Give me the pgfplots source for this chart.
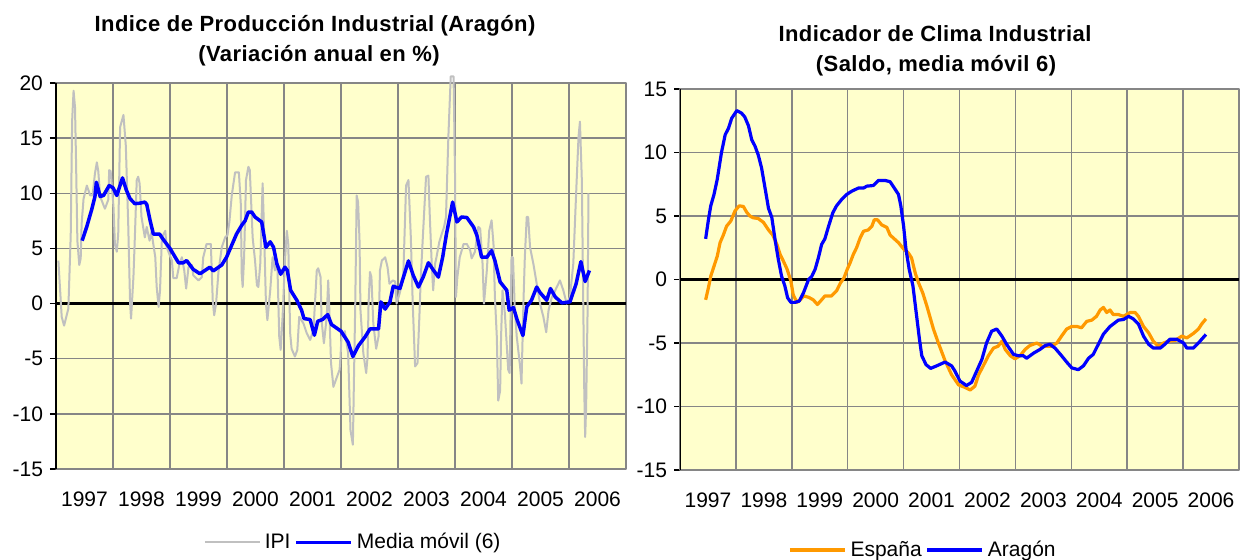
\documentclass[border=0pt]{standalone}
\usepackage{pgfplots}
\pgfplotsset{compat=1.18}
\usepackage{fontspec}
\setmainfont{Liberation Sans}
\newfontfamily\titlefont[LetterSpace=2.0]{Liberation Sans}
\definecolor{bgyel}{RGB}{255,255,204}
\definecolor{gridg}{RGB}{134,134,134}
\definecolor{ipigray}{RGB}{192,192,192}
\definecolor{mablue}{RGB}{0,0,255}
\definecolor{orng}{RGB}{255,153,0}
\begin{document}
\begin{tikzpicture}[x=0.5pt,y=0.5pt]
\path[use as bounding box] (0,0) rectangle (1240,560);
\pgfplotsset{
 common/.style={
   scale only axis,
   xmin=-0.5, xmax=119.5,
   axis background/.style={fill=bgyel},
   axis line style={draw=gridg, line width=0.75pt},
   xtick={5.5,17.5,...,113.5},
   xticklabels={1997,1998,1999,2000,2001,2002,2003,2004,2005,2006},
   xmajorgrids=false,
   x tick label style={font=\fontsize{10.5}{12}\selectfont, yshift=-5pt},
   major x tick style={draw=none},
   extra x ticks={11.5,23.5,35.5,47.5,59.5,71.5,83.5,95.5,107.5},
   extra x tick labels={},
   extra x tick style={grid=major, grid style={gridg, line width=0.75pt}, major tick length=0pt},
   ymajorgrids=true,
   grid style={gridg, line width=0.75pt},
   ytick pos=left,
   tick align=outside,
   major tick length=3pt,
   y tick style={black, line width=0.75pt},
   y tick label style={font=\fontsize{10.5}{12}\selectfont},
   extra y ticks={0},
   extra y tick labels={},
   extra y tick style={grid=major, grid style={black, line width=1.9pt}, major tick length=0pt},
   legend style={draw=none, fill=none, legend columns=2, font=\fontsize{10.5}{12}\selectfont, anchor=center},
   legend image code/.code={\draw[##1] (0pt,0pt) -- (27.5pt,0pt);},
   line join=round,
 }
}
% ---------------- Left chart ----------------
\begin{axis}[common,
  at={(28pt,45.5pt)}, anchor=south west,
  width=285pt, height=193pt,
  ymin=-15, ymax=20,
  ytick={-15,-10,-5,0,5,10,15,20},
  yticklabels={-15,-10,-5,0,5,10,15,20},
  clip=false,
  legend style={at={(0.523,-0.19)}},
]
\addplot[ipigray, line width=1pt] coordinates {
(0,3.9) (0.7,-1.2) (1.2,-2.0) (2.1,-0.45) (2.6,6.2) (2.9,16.6) (3.2,19.3) (3.5,17.8) (3.7,13.4) (4,5.7)
(4.4,3.5) (4.7,4.1) (4.9,7.25) (5.3,9.5) (6,10.7) (6.7,9.8) (7.2,9.8) (7.7,11.8) (8.1,12.8) (8.4,12.0)
(8.8,9.7) (9.8,8.6) (10.5,9.4) (10.7,12.1) (11.0,12.0) (11.6,8.8) (11.9,5.4) (12.3,4.7) (12.6,6.3) (13,16.0)
(13.7,17.1) (14.2,14.3) (14.7,7.25) (15.1,0) (15.3,-1.36) (15.8,2.4) (16.1,6.0) (16.5,11.2) (16.8,11.5) (17.1,10.9)
(17.5,7.85) (18.2,6.0) (18.6,6.95) (19.2,5.7) (19.6,6.5) (20.4,4.2) (20.7,1.5) (21.1,-0.3) (21.4,1.2) (21.8,6.0)
(22.5,6.6) (22.8,5.1) (23.9,3.9) (24.2,2.3) (24.9,2.3) (25.5,3.6) (26,4.2) (26.5,3.0) (26.9,1.36) (27.4,3.3)
(28.1,3.5) (28.4,2.57) (29.5,2.1) (30.2,2.4) (30.5,4.2) (31.2,5.4) (32.1,5.4) (32.5,0.3) (32.8,-1.06) (33.2,0)
(33.7,2.87) (34.4,5.1) (35.1,6.0) (35.6,6.2) (36,7.4) (36.5,9.8) (37.2,11.9) (38,11.9) (38.4,9.06) (38.6,2.7)
(38.8,1.5) (39.1,4.2) (39.5,11.2) (40,12.4) (40.3,12.1) (40.9,6.0) (41.4,3.9) (41.8,1.66) (42.1,1.5) (42.5,3.6)
(43,10.9) (43.3,6.6) (43.7,0) (44,-1.5) (44.6,1.2) (45.1,4.2) (45.6,3.0) (46.1,3.6) (46.5,-3.0) (46.8,-4.2)
(47.2,-1.2) (47.7,3.9) (48.1,6.6) (48.4,5.4) (48.8,-2.7) (49.1,-4.1) (49.8,-4.8) (50.3,-4.2) (50.7,-1.2) (51.6,-1.8)
(52.3,-2.7) (53,-3.3) (53.7,-2.4) (54.4,3.0) (54.7,3.2) (55.2,2.4) (55.4,-1.5) (55.9,-3.6) (56.5,-1.2) (56.8,2.1)
(57.0,0) (57.4,-5.4) (57.9,-7.55) (58.4,-6.95) (59.2,-6.0) (59.4,-4.8) (59.6,-3.0) (60.3,-2.5) (61.0,-4.5) (61.5,-11.5)
(62,-12.8) (62.2,-7.55) (62.5,0) (62.8,9.8) (63.1,9.2) (63.4,5.7) (63.6,-0.6) (64.2,-4.5) (64.8,-6.3) (65.1,-4.8)
(65.3,0) (65.6,2.87) (65.9,2.4) (66.3,-1.8) (66.9,-4.1) (67.4,-3.0) (67.7,3.0) (68.1,3.9) (68.8,4.2) (69.3,3.3)
(69.7,1.8) (70.4,2.1) (70.9,2.0) (71.2,0) (71.9,1.0) (72.6,2.4) (73.2,10.7) (73.7,11.2) (74.2,6.0) (74.6,0)
(75.1,-5.7) (75.6,-5.4) (76,-1.2) (76.3,2.4) (76.8,6.6) (77.4,11.5) (77.9,11.6) (78.2,7.85) (78.6,3.6) (78.9,1.2)
(79.3,3.6) (79.6,4.2) (80.2,5.6) (80.7,6.3) (81.2,6.95) (81.6,7.85) (82.1,15.1) (82.6,20.6) (83.2,20.6) (83.5,11.8)
(83.7,0.6) (84,2.4) (84.5,4.2) (85.3,5.4) (86,5.4) (86.7,4.8) (87,4.1) (87.7,4.7) (88.4,6.95) (88.8,6.8)
(89.3,3.6) (89.6,0) (90.2,3.0) (90.7,6.6) (91.2,7.55) (91.6,5.4) (91.9,0.6) (92.3,-3.0) (92.6,-8.8) (93,-7.9)
(93.2,-3.0) (93.5,1.2) (94,-0.9) (94.7,-6.0) (95.0,-6.3) (95.4,4.2) (95.7,4.2) (96.1,-0.6) (96.5,-3.0) (97.2,-5.7)
(97.5,-7.25) (97.9,0) (98.2,4.2) (98.6,7.85) (98.9,7.85) (99.3,5.1) (100,3.6) (100.7,1.8) (101.4,0) (102.1,-1.2)
(102.7,-2.6) (103.2,-0.6) (103.9,0.6) (104.6,1.2) (105.6,2.1) (106.3,1.2) (107,0) (107.7,0.6) (108.4,3.6) (109,10.0)
(109.5,15.1) (109.8,16.5) (110.2,11.2) (110.5,0) (110.7,-7.55) (110.9,-12.1) (111.1,-9.5) (111.4,-1.0) (111.6,10.0)
};
\addlegendentry{IPI}
\addplot[mablue, line width=1.75pt] coordinates {
(5,5.7) (6,7.0) (7,8.5) (7.7,9.7) (8,11.0) (8.8,9.7) (9.5,9.8) (10.7,10.7) (11.5,10.5) (12.3,9.8)
(13.5,11.4) (14.3,10.3) (15.1,9.5) (16.1,9.06) (17.1,9.1) (18.2,9.2) (18.6,9.0) (19.3,7.55) (20,6.3) (21.3,6.3)
(22.1,5.8) (23.5,5.0) (24.6,4.2) (25.3,3.7) (26.3,3.7) (27,3.9) (28.4,3.1) (29.8,2.7) (31.2,3.1) (31.9,3.3)
(32.6,2.96) (34.4,3.5) (35.4,4.2) (36.5,5.3) (37.5,6.3) (38.6,7.1) (39.3,7.5) (40,8.3) (40.7,8.3) (41.4,7.85)
(42.8,7.4) (43.7,5.1) (44.6,5.6) (45.3,5.1) (46,3.6) (46.8,2.66) (47.7,3.3) (48.2,3.0) (48.9,1.2) (50.2,0.3)
(51.2,-0.6) (51.7,-1.36) (53,-1.45) (53.9,-2.87) (54.6,-1.6) (55.6,-1.45) (56.7,-1.0) (57.5,-1.9) (59.5,-2.5) (61,-3.5)
(62,-4.8) (63.2,-3.8) (64.6,-3.0) (65.6,-2.3) (67.4,-2.3) (67.9,0.15) (68.8,-0.5) (69.8,0.15) (70.5,1.57) (71.9,1.36)
(73.7,3.87) (74.7,2.57) (75.8,1.5) (76.8,2.4) (77.9,3.7) (79,3.0) (80,2.4) (80.9,4.2) (81.7,6.3) (83,9.2)
(83.9,7.4) (84.9,7.85) (86,7.8) (87.4,6.95) (88.1,6.2) (89.1,4.2) (90.2,4.2) (91.2,4.8) (91.9,3.9) (93,1.96)
(94.4,1.2) (94.9,-0.6) (95.8,-0.36) (96.6,-1.5) (97.8,-2.9) (98.6,-0.3) (99.6,0.3) (100.7,1.5) (101.4,1.0) (102.8,0.3)
(103.6,1.36) (104.6,0.6) (106,0.06) (107.7,0.15) (109,1.8) (110,3.8) (110.9,2.0) (111.8,3.0)
};
\addlegendentry{Media móvil (6)}
\draw[black, line width=0.75pt] (rel axis cs:0,0) -- (rel axis cs:0,1);
\end{axis}
% ---------------- Right chart ----------------
\begin{axis}[common,
  at={(340pt,45pt)}, anchor=south west,
  width=279.5pt, height=190.5pt,
  ymin=-15, ymax=15,
  ytick={-15,-10,-5,0,5,10,15},
  yticklabels={-15,-10,-5,0,5,10,15},
  legend style={at={(0.4365,-0.21)}},
]
\addplot[orng, line width=1.6pt] coordinates {
(5,-1.6) (5.6,-0.65) (6.1,0.26) (6.8,1.05) (7.5,1.84) (8.1,2.9) (8.8,3.5) (9.5,4.2) (10.4,4.6) (11.3,5.4)
(12.2,5.8) (13.1,5.75) (13.8,5.3) (14.5,5.0) (15.2,4.86) (16.3,4.8) (17.4,4.5) (18.5,3.9) (19.4,3.5) (20.3,2.76)
(21,1.97) (21.7,1.44) (22.5,0.8) (23.3,-0.13) (23.8,-1.2) (24.6,-1.8) (25.3,-1.6) (26.1,-1.3) (27.1,-1.4) (28.1,-1.6)
(29,-1.97) (29.9,-1.6) (30.6,-1.3) (32,-1.3) (33.1,-0.9) (33.9,-0.3) (34.7,0.13) (35.4,0.8) (36,1.3) (36.7,1.97)
(37.4,2.5) (38.2,3.3) (38.9,3.8) (39.9,3.9) (40.7,4.2) (41.2,4.7) (41.9,4.7) (42.8,4.3) (43.9,4.1) (44.6,3.5)
(45.5,3.2) (46.4,2.9) (47.5,2.4) (48.5,2.1) (49.2,1.7) (50,0.5) (50.7,-0.26) (51.6,-1.05) (52.5,-2.1) (53.2,-3.0)
(53.9,-3.9) (54.96,-5.0) (56.4,-6.4) (57.8,-7.5) (59.3,-8.3) (60.7,-8.5) (61.8,-8.7) (62.8,-8.4) (63.6,-7.5) (64.6,-6.8)
(65.7,-6.0) (66.8,-5.4) (67.8,-5.25) (68.6,-4.86) (69.3,-5.5) (70.4,-6.0) (71.4,-6.25) (72.5,-6.0) (73.6,-5.5) (74.6,-5.2)
(76.1,-5.0) (77.2,-5.25) (78.2,-5.25) (79.3,-5.25) (80.4,-5.0) (81.4,-4.46) (82.5,-3.9) (83.6,-3.7) (84.7,-3.7) (85.7,-3.8)
(86.8,-3.3) (87.9,-3.2) (88.9,-2.9) (89.7,-2.4) (90.4,-2.2) (91.1,-2.6) (91.8,-2.4) (92.5,-2.76) (93.6,-2.76) (94.7,-2.9)
(96.1,-2.6) (97.2,-2.6) (97.9,-2.9) (99,-3.7) (100.1,-4.2) (101.1,-4.86) (102.2,-5.25) (103.3,-5.0) (104.3,-4.86) (105.8,-4.8)
(107.2,-4.46) (108.3,-4.6) (109.7,-4.25) (110.8,-3.9) (111.5,-3.5) (112.4,-3.1)
};
\addlegendentry{España}
\addplot[mablue, line width=1.6pt] coordinates {
(5,3.2) (5.6,4.7) (6.1,5.8) (6.8,6.7) (7.5,7.9) (8.4,10.0) (9.2,11.4) (9.9,11.9) (10.6,12.7) (11.7,13.3)
(12.7,13.1) (13.4,12.8) (14.2,12.1) (14.9,11.0) (15.6,10.5) (16.3,9.8) (17,8.8) (17.8,7.1) (18.5,5.6) (19.2,4.9)
(19.9,3.15) (20.6,1.6) (21.3,0.26) (22,-0.5) (22.6,-1.44) (23.3,-1.8) (24.2,-1.8) (25.1,-1.7) (26,-1.05) (27.1,0)
(27.8,0.26) (28.5,0.8) (29.2,1.7) (29.9,2.76) (30.6,3.2) (31.4,4.2) (32.3,5.25) (33.1,5.8) (34.2,6.3) (35.3,6.7)
(36.4,6.96) (37.8,7.2) (38.9,7.2) (39.6,7.35) (41,7.4) (42.1,7.8) (43.5,7.8) (44.6,7.7) (45.5,7.2) (46.4,6.7)
(46.9,5.8) (47.5,4.2) (48,2.4) (48.7,0.8) (49.5,-0.5) (50.2,-2.6) (50.9,-4.7) (51.4,-6.0) (52.3,-6.7) (53.3,-7.0)
(54.6,-6.8) (56.4,-6.5) (57.8,-6.8) (58.5,-7.2) (59.6,-8.0) (61,-8.35) (62.1,-8.1) (63.2,-7.2) (64.3,-6.3) (65.3,-5.0)
(66.4,-4.07) (67.5,-3.9) (68.6,-4.46) (69.6,-5.1) (71.1,-5.9) (72.1,-6.0) (73.2,-6.0) (73.9,-6.2) (75.4,-5.8) (76.8,-5.5)
(77.9,-5.2) (78.9,-5.1) (80,-5.4) (81.4,-6.0) (82.5,-6.5) (83.6,-6.96) (85,-7.1) (86.1,-6.8) (87.2,-6.2) (88.2,-5.9)
(89.3,-5.1) (90.4,-4.3) (91.8,-3.7) (93.6,-3.2) (94.7,-3.15) (95.8,-2.9) (96.8,-3.1) (97.9,-3.5) (99,-4.46) (100.1,-5.1)
(101.1,-5.4) (102.6,-5.4) (103.6,-5.1) (104.7,-4.7) (106.1,-4.7) (107.6,-5.0) (108.3,-5.4) (109.7,-5.4) (110.8,-5.0) (111.5,-4.7)
(112.4,-4.33)
};
\addlegendentry{Aragón}
\draw[black, line width=0.75pt] (rel axis cs:0,0) -- (rel axis cs:0,1);
\end{axis}
% ---------------- Titles ----------------
\node[anchor=base, font=\titlefont\bfseries\fontsize{11}{13}\selectfont] at (315,528) {Indice de Producción Industrial (Aragón)};
\node[anchor=base, font=\titlefont\bfseries\fontsize{11}{13}\selectfont] at (319,498.3) {(Variación anual en \%)};
\node[anchor=base, font=\titlefont\bfseries\fontsize{11}{13}\selectfont] at (935,518.3) {Indicador de Clima Industrial};
\node[anchor=base, font=\titlefont\bfseries\fontsize{11}{13}\selectfont] at (936,488.3) {(Saldo, media móvil 6)};
\end{tikzpicture}
\end{document}
